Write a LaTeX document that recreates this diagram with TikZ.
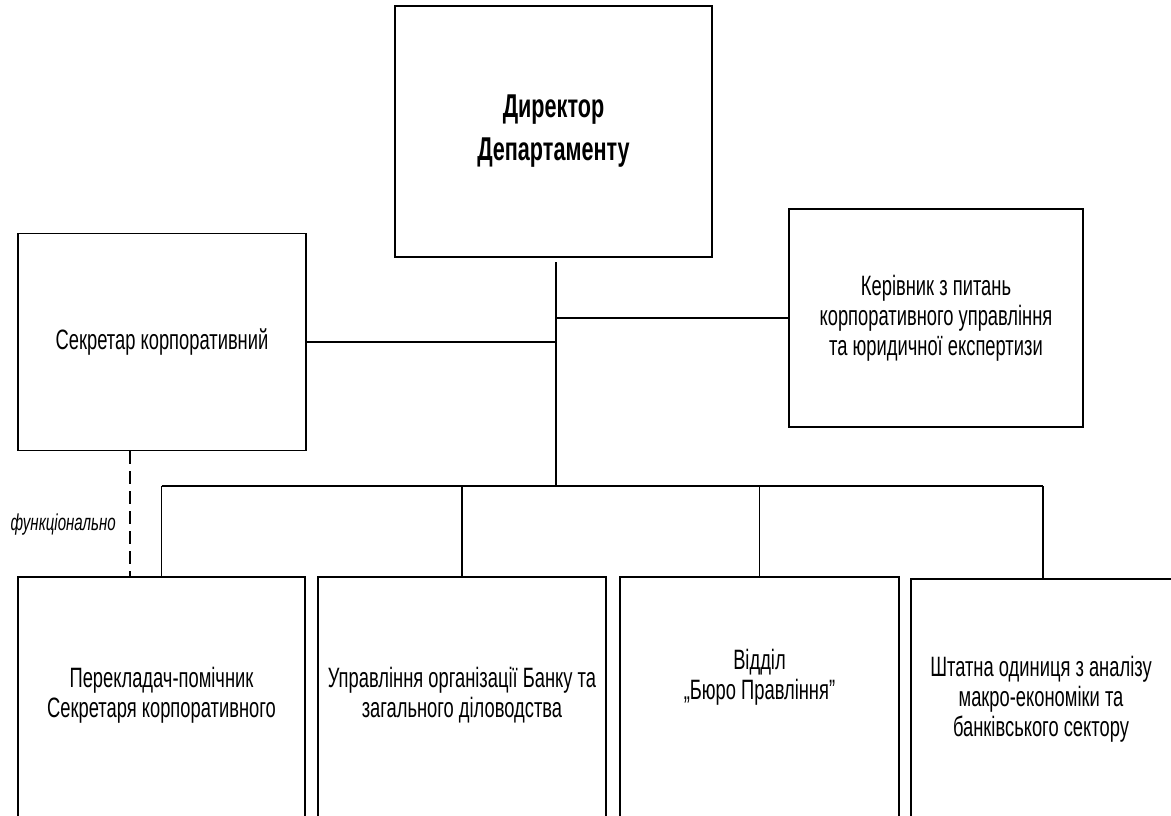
\documentclass[tikz,border=0pt]{standalone}
\usepackage{fontspec}
\setmainfont{Liberation Sans}[FakeStretch=0.655]

\begin{document}
\begin{tikzpicture}[x=1pt,y=-1pt,
  unit/.style={draw,line width=1.6pt,inner sep=0pt,align=center,
    font=\fontsize{28}{30}\selectfont},
  caption/.style={inner sep=0pt,align=center,font=\fontsize{28}{30}\selectfont},
  bus/.style={line width=1.6pt},
  drop/.style={line width=1.1pt}]
  \clip (0,0) rectangle (1171,815);
  \node[unit,minimum width=317pt,minimum height=251pt,
    font=\bfseries\fontsize{33}{43}\selectfont] (dir) at (553.5,131.5) {Директор\\Департаменту};
  \node[unit,minimum width=288pt,minimum height=217pt] (sec) at (162,342) {Секретар корпоративний};
  \node[unit,minimum width=294pt,minimum height=218pt] (head) at (936,318)
    {Керівник з питань\\корпоративного управління\\та юридичної експертизи};
  \node[unit,anchor=north,minimum width=287pt,minimum height=270pt] (u1) at (161.5,576) {};
  \node[unit,anchor=north,minimum width=288pt,minimum height=270pt] (u2) at (462,576) {};
  \node[unit,anchor=north,minimum width=279pt,minimum height=270pt] (u3) at (759.5,576) {};
  \node[unit,anchor=north,minimum width=264pt,minimum height=270pt] (u4) at (1043,578) {};
  \node[caption] (u1t) at ([yshift=-119pt]u1.north) {Перекладач-помічник\\Секретаря корпоративного};
  \node[caption] (u2t) at ([yshift=-119pt]u2.north) {Управління організації Банку та\\загального діловодства};
  \node[caption] (u3t) at ([yshift=-101pt]u3.north) {Відділ\\„Бюро Правління”};
  \node[caption] (u4t) at ([xshift=-2pt,yshift=-121pt]u4.north)
    {Штатна одиниця з аналізу\\макро-економіки та\\банківського сектору};
  \coordinate (top) at (556,262);
  \coordinate (hub) at (556,486);
  \draw[bus] (top) -- (hub);
  \draw[bus] (sec.east) -- (sec.east -| hub);
  \draw[bus] (head.west) -- (head.west -| hub);
  \draw[bus] (u1.north |- hub) -- (u4.north |- hub);
  \foreach \u in {u1,u2,u3,u4}
    \draw[drop] (\u.north |- hub) -- (\u.north);
  \draw[drop,dash pattern=on 13pt off 7pt] ([xshift=-32pt]sec.south) -- ([xshift=-32pt]sec.south |- u1.north);
  \node[inner sep=0pt,anchor=east,font=\itshape\fontsize{23}{26}\selectfont] (fn) at (116,525) {функціонально};
\end{tikzpicture}
\end{document}
